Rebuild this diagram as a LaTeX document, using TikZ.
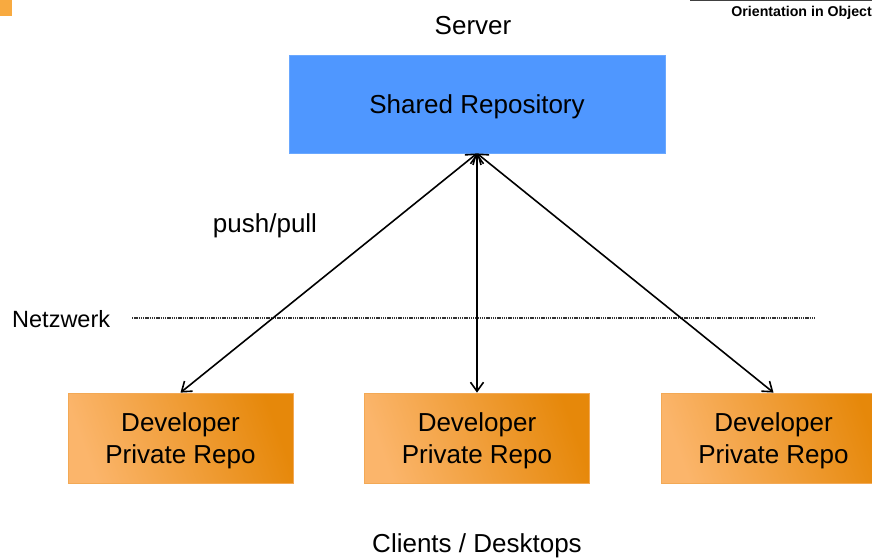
\documentclass[tikz,border=0pt]{standalone}
\usepackage{fontspec}
\setmainfont{Liberation Sans}
\usetikzlibrary{arrows.meta}
\definecolor{repoblue}{HTML}{4F97FF}
\definecolor{repoblueedge}{HTML}{6AA8FF}
\definecolor{devlight}{HTML}{FBB56B}
\definecolor{devdark}{HTML}{E6880A}
\definecolor{devedge}{HTML}{F3A955}
\definecolor{logoorange}{HTML}{F8AA40}
\tikzset{
  bigtext/.style={font=\fontsize{26}{32}\selectfont, align=center, inner sep=0pt},
  sharedbox/.style={draw=repoblueedge, fill=repoblue, line width=0.8pt, minimum width=376pt, minimum height=98pt, inner sep=0pt},
  devbox/.style={draw=devedge, line width=0.8pt, left color=devlight, right color=devdark, shading angle=110, minimum width=225pt, minimum height=90pt, inner sep=0pt},
  link/.style={line width=1.6pt, {Straight Barb[length=9pt,width=13pt]}-{Straight Barb[length=9pt,width=13pt]}},
  netline/.style={line width=1.4pt, black!80, dash pattern=on 1.4pt off 0.8pt}
}
\begin{document}
\begin{tikzpicture}[x=1pt,y=-1pt]
\useasboundingbox (0,0) rectangle (872,557);
\begin{scope}
\clip (0,0) rectangle (872,557);
% logo pieces
\fill[logoorange] (0,0) rectangle (12,16);
\draw[line width=1.8pt, black!75] (690,0.5) -- (880,0.5);
\node[anchor=base east, inner sep=0pt, font=\fontsize{14.2}{16}\bfseries] (logo) at (872,16) {Orientation in Object};
% boxes
\node[sharedbox] (shared) at (477,104) {};
\node[devbox] (dev1) at (180.5,438) {};
\node[devbox] (dev2) at (477,438) {};
\node[devbox] (dev3) at (773.5,438) {};
% texts
\node[bigtext] (server) at (473,26) {Server};
\node[bigtext] (sharedtext) at (477,107) {Shared Repository};
\node[bigtext] (dev1text) at (180.5,441) {Developer\\Private Repo};
\node[bigtext] (dev2text) at (477,441) {Developer\\Private Repo};
\node[bigtext] (dev3text) at (773.5,441) {Developer\\Private Repo};
\node[bigtext] (push) at (265,226) {push/pull};
\node[bigtext, font=\fontsize{23.5}{28}\selectfont, anchor=west] (netz) at (12,319) {Netzwerk};
\node[bigtext] (clients) at (477,546) {Clients / Desktops};
% network line
\coordinate (netA) at (132,318);
\coordinate (netB) at (815,318);
\draw[netline] (netA) -- (netB);
% links
\draw[link] (shared.south) -- (dev1.north);
\draw[link] (shared.south) -- (dev2.north);
\draw[link] (shared.south) -- (dev3.north);
\end{scope}
\end{tikzpicture}
\end{document}
